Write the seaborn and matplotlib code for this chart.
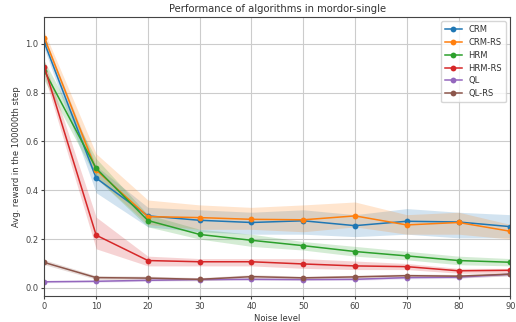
import numpy as np
import pandas as pd
import matplotlib
matplotlib.use("Agg")
import matplotlib.pyplot as plt
import seaborn as sns

noise = [0, 10, 20, 30, 40, 50, 60, 70, 80, 90]
algorithms = ["CRM", "CRM-RS", "HRM", "HRM-RS", "QL", "QL-RS"]

crm_mean = [1.005, 0.45, 0.295, 0.277, 0.268, 0.275, 0.255, 0.273, 0.270, 0.251]
crm_lo = [0.98, 0.39, 0.25, 0.23, 0.22, 0.22, 0.21, 0.22, 0.205, 0.205]
crm_hi = [1.03, 0.50, 0.33, 0.32, 0.31, 0.32, 0.30, 0.325, 0.31, 0.30]

crmrs_mean = [1.025, 0.483, 0.292, 0.288, 0.281, 0.279, 0.295, 0.258, 0.268, 0.232]
crmrs_lo = [1.00, 0.45, 0.26, 0.24, 0.24, 0.23, 0.25, 0.22, 0.22, 0.20]
crmrs_hi = [1.05, 0.55, 0.36, 0.34, 0.33, 0.34, 0.352, 0.30, 0.31, 0.26]

hrm_mean = [0.89, 0.49, 0.276, 0.219, 0.195, 0.173, 0.149, 0.131, 0.112, 0.105]
hrm_lo = [0.85, 0.45, 0.25, 0.20, 0.17, 0.155, 0.13, 0.115, 0.095, 0.09]
hrm_hi = [0.93, 0.53, 0.30, 0.24, 0.22, 0.19, 0.17, 0.15, 0.13, 0.12]

hrmrs_mean = [0.905, 0.216, 0.112, 0.107, 0.107, 0.098, 0.090, 0.087, 0.070, 0.072]
hrmrs_lo = [0.87, 0.16, 0.09, 0.09, 0.09, 0.08, 0.075, 0.075, 0.06, 0.06]
hrmrs_hi = [0.93, 0.29, 0.13, 0.12, 0.12, 0.12, 0.11, 0.10, 0.08, 0.08]

ql_mean = [0.025, 0.027, 0.031, 0.034, 0.035, 0.034, 0.035, 0.042, 0.044, 0.056]
ql_lo = [0.021, 0.023, 0.027, 0.030, 0.031, 0.030, 0.031, 0.037, 0.039, 0.051]
ql_hi = [0.029, 0.031, 0.035, 0.038, 0.039, 0.038, 0.039, 0.047, 0.049, 0.061]

qlrs_mean = [0.104, 0.042, 0.040, 0.035, 0.046, 0.041, 0.045, 0.050, 0.048, 0.056]
qlrs_lo = [0.095, 0.035, 0.032, 0.029, 0.038, 0.034, 0.038, 0.043, 0.041, 0.049]
qlrs_hi = [0.115, 0.050, 0.048, 0.042, 0.054, 0.048, 0.052, 0.057, 0.055, 0.063]

means = [crm_mean, crmrs_mean, hrm_mean, hrmrs_mean, ql_mean, qlrs_mean]
lows = [crm_lo, crmrs_lo, hrm_lo, hrmrs_lo, ql_lo, qlrs_lo]
highs = [crm_hi, crmrs_hi, hrm_hi, hrmrs_hi, ql_hi, qlrs_hi]

rows = []
for alg, m in zip(algorithms, means):
    for x, v in zip(noise, m):
        rows.append({"Noise level": x, "reward": v, "Algorithm": alg})
df = pd.DataFrame(rows)

palette = sns.color_palette("tab10", 6)

plt.rcParams.update({
    "text.color": "#333333",
    "axes.labelcolor": "#333333",
    "xtick.color": "#444444",
    "ytick.color": "#444444",
    "axes.edgecolor": "#444444",
    "xtick.major.size": 2.2,
    "ytick.major.size": 2.2,
    "xtick.major.pad": 2.0,
    "ytick.major.pad": 2.0,
})

fig = plt.figure(figsize=(5.16, 3.22), dpi=100)
ax = fig.add_axes([0.086, 0.081, 0.903, 0.866])

for i, alg in enumerate(algorithms):
    ax.fill_between(noise, lows[i], highs[i], color=palette[i], alpha=0.2, linewidth=0)

sns.lineplot(data=df, x="Noise level", y="reward", hue="Algorithm",
             hue_order=algorithms, palette=palette, marker="o",
             markersize=4.2, markeredgewidth=0, linewidth=1.1, ax=ax)

ax.set_xlim(0, 90)
ax.set_ylim(-0.033, 1.11)
ax.set_xticks(noise)
ax.set_yticks([0.0, 0.2, 0.4, 0.6, 0.8, 1.0])
ax.tick_params(labelsize=6)
ax.grid(True, color="#cccccc", linewidth=0.8)
ax.set_axisbelow(True)
for s in ax.spines.values():
    s.set_linewidth(0.8)
ax.set_xlabel("Noise level", fontsize=6, labelpad=2)
ax.set_ylabel("Avg. reward in the 100000th step", fontsize=6, labelpad=3)
ax.set_title("Performance of algorithms in mordor-single", fontsize=7.2, pad=3.5)
leg = ax.legend(loc="upper right", fontsize=6, title=None, borderpad=0.5,
                handlelength=2.0, labelspacing=0.45, framealpha=0.8)

fig.savefig("out.png", dpi=100)
